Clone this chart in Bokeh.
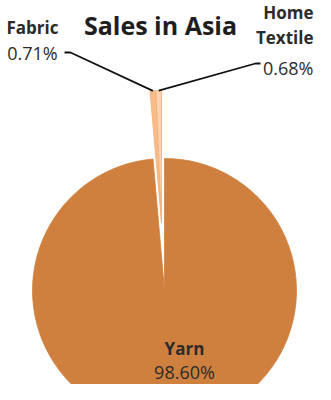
import math
from bokeh.plotting import figure
from bokeh.models import Range1d
from bokeh.core.properties import value
from bokeh.embed import file_html
from bokeh.resources import INLINE

# ---- data ----
title_text = "Sales in Asia"
categories = ["Yarn", "Fabric", "Home Textile"]
name_lines = [["Yarn"], ["Fabric"], ["Home", "Textile"]]
shares = [98.60, 0.71, 0.68]
share_labels = ["98.60%", "0.71%", "0.68%"]

# ---- layout / style ----
W, H = 315, 384
OFFX, OFFY = 8, 8          # page margin
CX, CY = 172, 298          # pie centre in page pixels
R = 132
explode = [0, 68, 68]
colors = ["#D0803E", "#F8BC8A", "#FBD3B0"]
edge = ["#D0803E", "#F0AE76", "#F0AE76"]
FONT = "Open Sans"

p = figure(width=W, height=H, output_backend="svg", toolbar_location=None,
           x_range=Range1d(OFFX - CX, OFFX + W - CX),
           y_range=Range1d(CY - (OFFY + H), CY - OFFY),
           min_border=0)
p.axis.visible = False
p.grid.visible = False
p.outline_line_color = None
p.background_fill_color = "white"
p.border_fill_color = "white"

total = sum(shares)
bounds = []
cum = 0.0
for s in shares:
    a0 = math.radians(90 - 360 * cum / total)
    cum += s
    a1 = math.radians(90 - 360 * cum / total)
    bounds.append((a0, a1))
# exploded group moves out along the bisector of its combined span
exp_idx = [i for i in range(len(shares)) if explode[i] > 0]
grp_mid = (bounds[exp_idx[0]][0] + bounds[exp_idx[-1]][1]) / 2

mids = []
for i, (a0, a1) in enumerate(bounds):
    mid = (a0 + a1) / 2
    mids.append(mid)
    d = explode[i]
    ox = d * math.cos(grp_mid)
    oy = d * math.sin(grp_mid)
    p.wedge(x=[ox], y=[oy], radius=R, start_angle=[a1], end_angle=[a0],
            direction="anticlock", fill_color=colors[i], line_color=edge[i],
            line_width=0.8)

# leader lines from outer arc of exploded slices to label elbows
elbows = {1: [(-94, 238), (-100, 238)], 2: [(91, 227), (96, 227)]}
for i, pts in elbows.items():
    d = explode[i]
    sx = d * math.cos(grp_mid) + R * math.cos(mids[i])
    sy = d * math.sin(grp_mid) + R * math.sin(mids[i])
    xs = [sx] + [q[0] for q in pts]
    ys = [sy] + [q[1] for q in pts]
    p.line(xs, ys, line_color="#111111", line_width=1.8)

# title
p.text(x=[-4], y=[266], text=[title_text], text_align="center",
       text_baseline="alphabetic", text_font=value(FONT),
       text_font_size="25px", text_font_style="bold", text_color="#1e1e1e")

# data labels: (x, first baseline, align, line step)
label_pos = [(20, -58, "center", 23), (-132, 263, "center", 25), (149, 278, "right", 25)]
for i in range(len(categories)):
    x, y0, align, step = label_pos[i]
    lines = name_lines[i]
    for k, ln in enumerate(lines):
        p.text(x=[x], y=[y0 - k * step], text=[ln], text_align=align,
               text_baseline="alphabetic", text_font=value(FONT),
               text_font_size="17px", text_font_style="bold", text_color="#2b2b2b")
    yv = y0 - len(lines) * step - (5 if i == 2 else 0)
    p.text(x=[x], y=[yv], text=[share_labels[i]], text_align=align,
           text_baseline="alphabetic", text_font=value(FONT),
           text_font_size="18px", text_color="#2b2b2b")

open("out.html", "w").write(file_html(p, INLINE))
